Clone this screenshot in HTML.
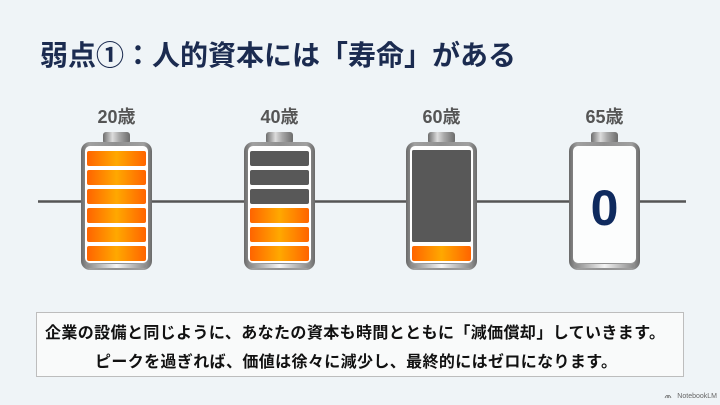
<!DOCTYPE html>
<html>
<head>
<meta charset="utf-8">
<style>
  html,body{margin:0;padding:0;background:#eff4f7;}
  body{width:720px;height:405px;overflow:hidden;}
  svg{display:block;}
  .jp{font-family:"Liberation Sans","Noto Sans CJK JP",sans-serif;}
</style>
</head>
<body>
<svg width="720" height="405" viewBox="0 0 720 405" xmlns="http://www.w3.org/2000/svg">
  <defs>
    <linearGradient id="orange" x1="0" y1="0" x2="1" y2="0">
      <stop offset="0" stop-color="#ff6400"/>
      <stop offset="0.5" stop-color="#ffa800"/>
      <stop offset="1" stop-color="#ff6400"/>
    </linearGradient>
    <linearGradient id="cap" x1="0" y1="0" x2="1" y2="0">
      <stop offset="0" stop-color="#6c6c6c"/>
      <stop offset="0.35" stop-color="#dcdcdc"/>
      <stop offset="0.6" stop-color="#a8a8a8"/>
      <stop offset="1" stop-color="#6c6c6c"/>
    </linearGradient>
    <linearGradient id="shell" x1="0" y1="0" x2="1" y2="0">
      <stop offset="0" stop-color="#6a6a6a"/>
      <stop offset="0.12" stop-color="#a0a0a0"/>
      <stop offset="0.5" stop-color="#909090"/>
      <stop offset="0.88" stop-color="#a0a0a0"/>
      <stop offset="1" stop-color="#6a6a6a"/>
    </linearGradient>
    <linearGradient id="hl" x1="0" y1="0" x2="1" y2="0">
      <stop offset="0" stop-color="#8a8a8a"/>
      <stop offset="0.5" stop-color="#f4f4f4"/>
      <stop offset="1" stop-color="#8a8a8a"/>
    </linearGradient>
  </defs>

  <!-- Title -->
  <text class="jp" x="40" y="65" font-size="28" font-weight="700" fill="#1b2b50" textLength="476" lengthAdjust="spacing">弱点①：人的資本には「寿命」がある</text>

  <!-- timeline -->
  <line x1="38" y1="201.5" x2="686" y2="201.5" stroke="#555" stroke-width="2.5"/>

  <!-- Battery 1: 20歳 -->
  <g transform="translate(81,0)">
    <text class="jp" x="35.5" y="123" font-size="18" font-weight="700" fill="#555" text-anchor="middle">20歳</text>
    <rect x="22" y="132" width="27" height="12" rx="3" fill="url(#cap)"/>
    <rect x="0" y="142" width="71" height="128" rx="9" fill="url(#shell)"/>
    <rect x="4" y="146" width="63" height="117" rx="5" fill="#fff"/>
    <rect x="6" y="264" width="59" height="4" rx="2" fill="url(#hl)"/>
    <rect x="6" y="151" width="59" height="15" rx="2" fill="url(#orange)"/>
    <rect x="6" y="170" width="59" height="15" rx="2" fill="url(#orange)"/>
    <rect x="6" y="189" width="59" height="15" rx="2" fill="url(#orange)"/>
    <rect x="6" y="208" width="59" height="15" rx="2" fill="url(#orange)"/>
    <rect x="6" y="227" width="59" height="15" rx="2" fill="url(#orange)"/>
    <rect x="6" y="246" width="59" height="15" rx="2" fill="url(#orange)"/>
  </g>

  <!-- Battery 2: 40歳 -->
  <g transform="translate(244,0)">
    <text class="jp" x="35.5" y="123" font-size="18" font-weight="700" fill="#555" text-anchor="middle">40歳</text>
    <rect x="22" y="132" width="27" height="12" rx="3" fill="url(#cap)"/>
    <rect x="0" y="142" width="71" height="128" rx="9" fill="url(#shell)"/>
    <rect x="4" y="146" width="63" height="117" rx="5" fill="#fff"/>
    <rect x="6" y="264" width="59" height="4" rx="2" fill="url(#hl)"/>
    <rect x="6" y="151" width="59" height="15" rx="2" fill="#585858"/>
    <rect x="6" y="170" width="59" height="15" rx="2" fill="#585858"/>
    <rect x="6" y="189" width="59" height="15" rx="2" fill="#585858"/>
    <rect x="6" y="208" width="59" height="15" rx="2" fill="url(#orange)"/>
    <rect x="6" y="227" width="59" height="15" rx="2" fill="url(#orange)"/>
    <rect x="6" y="246" width="59" height="15" rx="2" fill="url(#orange)"/>
  </g>

  <!-- Battery 3: 60歳 -->
  <g transform="translate(406,0)">
    <text class="jp" x="35.5" y="123" font-size="18" font-weight="700" fill="#555" text-anchor="middle">60歳</text>
    <rect x="22" y="132" width="27" height="12" rx="3" fill="url(#cap)"/>
    <rect x="0" y="142" width="71" height="128" rx="9" fill="url(#shell)"/>
    <rect x="4" y="146" width="63" height="117" rx="5" fill="#fff"/>
    <rect x="6" y="264" width="59" height="4" rx="2" fill="url(#hl)"/>
    <rect x="6" y="150" width="59" height="92" rx="1.5" fill="#585858"/>
    <rect x="6" y="246" width="59" height="15" rx="2" fill="url(#orange)"/>
  </g>

  <!-- Battery 4: 65歳 -->
  <g transform="translate(569,0)">
    <text class="jp" x="35.5" y="123" font-size="18" font-weight="700" fill="#555" text-anchor="middle">65歳</text>
    <rect x="22" y="132" width="27" height="12" rx="3" fill="url(#cap)"/>
    <rect x="0" y="142" width="71" height="128" rx="9" fill="url(#shell)"/>
    <rect x="4" y="146" width="63" height="117" rx="5" fill="#fcfdfd"/>
    <rect x="6" y="264" width="59" height="4" rx="2" fill="url(#hl)"/>
    <text x="35.5" y="225" font-family="'Liberation Sans', sans-serif" font-size="50" font-weight="700" fill="#0f2a5e" text-anchor="middle">0</text>
  </g>

  <!-- Text box -->
  <rect x="36.5" y="312.5" width="647" height="64" fill="#f9fafa" stroke="#bdbdbd" stroke-width="1"/>
  <text class="jp" x="45" y="338" font-size="16" font-weight="700" fill="#111" textLength="620" lengthAdjust="spacing">企業の設備と同じように、あなたの資本も時間とともに「減価償却」していきます。</text>
  <text class="jp" x="95" y="367" font-size="16" font-weight="700" fill="#111" textLength="522" lengthAdjust="spacing">ピークを過ぎれば、価値は徐々に減少し、最終的にはゼロになります。</text>

  <!-- Watermark -->
  <text x="717" y="398" font-family="'Liberation Sans', sans-serif" font-size="7" fill="#666" text-anchor="end">NotebookLM</text>
  <path d="M665 398 q2 -5 4 0 M667 398 q2 -5 4 0" stroke="#666" stroke-width="0.8" fill="none"/>
</svg>
</body>
</html>
